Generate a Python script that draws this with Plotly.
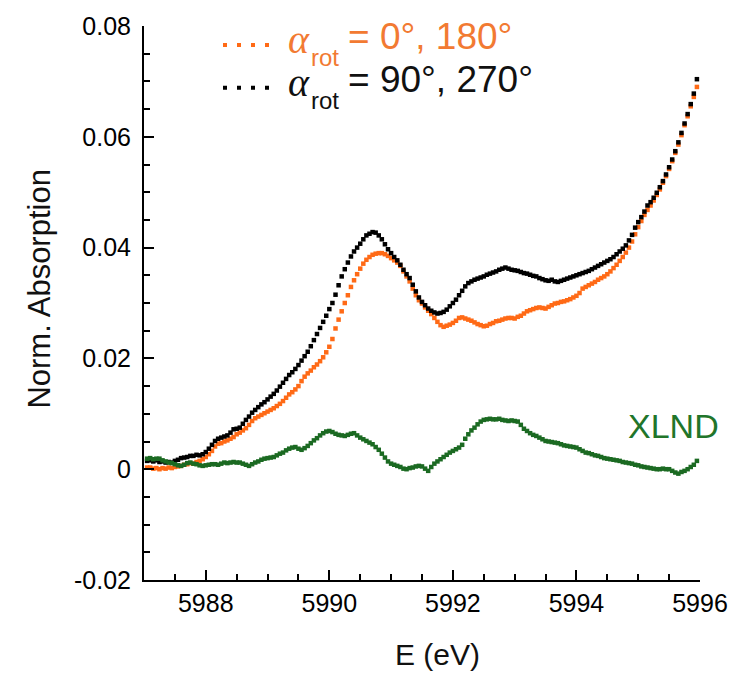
import numpy as np
import plotly.graph_objects as go

# Energy grid (eV), 0.05 eV sampling
energy = np.round(5987.05 + 0.05 * np.arange(179), 2)

# alpha_rot = 0°, 180° (orange)
orange_vals = [
    0.0003, 0.0003, 0.0001, 0.0002, 0.0000, 0.0002, 0.0001, 0.0003, 0.0002, 0.0004,
    0.0005, 0.0006, 0.0008, 0.0009, 0.0011, 0.0010, 0.0013, 0.0015, 0.0018, 0.0022,
    0.0027, 0.0033, 0.0041, 0.0046, 0.0047, 0.0050, 0.0052, 0.0055, 0.0058, 0.0063,
    0.0066, 0.0070, 0.0074, 0.0080, 0.0087, 0.0092, 0.0095, 0.0098, 0.0101, 0.0104,
    0.0107, 0.0110, 0.0114, 0.0118, 0.0123, 0.0129, 0.0135, 0.0139, 0.0144, 0.0150,
    0.0159, 0.0167, 0.0173, 0.0178, 0.0184, 0.0189, 0.0195, 0.0202, 0.0211, 0.0221,
    0.0235, 0.0254, 0.0270, 0.0285, 0.0300, 0.0314, 0.0329, 0.0341, 0.0352, 0.0362,
    0.0371, 0.0378, 0.0383, 0.0387, 0.0389, 0.0390, 0.0390, 0.0388, 0.0385, 0.0381,
    0.0377, 0.0373, 0.0367, 0.0357, 0.0348, 0.0339, 0.0326, 0.0314, 0.0305, 0.0299,
    0.0292, 0.0286, 0.0280, 0.0273, 0.0266, 0.0260, 0.0257, 0.0259, 0.0261, 0.0264,
    0.0268, 0.0273, 0.0274, 0.0272, 0.0270, 0.0268, 0.0265, 0.0262, 0.0260, 0.0258,
    0.0259, 0.0262, 0.0264, 0.0267, 0.0268, 0.0270, 0.0272, 0.0273, 0.0273, 0.0272,
    0.0275, 0.0277, 0.0281, 0.0285, 0.0287, 0.0289, 0.0291, 0.0292, 0.0291, 0.0290,
    0.0293, 0.0296, 0.0299, 0.0300, 0.0302, 0.0303, 0.0305, 0.0307, 0.0310, 0.0313,
    0.0318, 0.0326, 0.0329, 0.0332, 0.0335, 0.0338, 0.0342, 0.0345, 0.0348, 0.0352,
    0.0357, 0.0363, 0.0369, 0.0376, 0.0383, 0.0391, 0.0400, 0.0411, 0.0424, 0.0437,
    0.0448, 0.0459, 0.0468, 0.0476, 0.0485, 0.0495, 0.0505, 0.0517, 0.0529, 0.0542,
    0.0556, 0.0571, 0.0586, 0.0603, 0.0621, 0.0637, 0.0655, 0.0672, 0.0690,
]

# alpha_rot = 90°, 270° (black)
black_vals = [
    0.0015, 0.0016, 0.0014, 0.0016, 0.0013, 0.0014, 0.0012, 0.0013, 0.0012, 0.0015,
    0.0017, 0.0020, 0.0021, 0.0022, 0.0024, 0.0024, 0.0026, 0.0025, 0.0027, 0.0031,
    0.0037, 0.0044, 0.0051, 0.0055, 0.0057, 0.0059, 0.0061, 0.0066, 0.0072, 0.0073,
    0.0075, 0.0082, 0.0089, 0.0095, 0.0102, 0.0107, 0.0112, 0.0117, 0.0121, 0.0126,
    0.0131, 0.0136, 0.0142, 0.0149, 0.0156, 0.0163, 0.0170, 0.0175, 0.0181, 0.0188,
    0.0196, 0.0204, 0.0212, 0.0222, 0.0233, 0.0244, 0.0255, 0.0266, 0.0277, 0.0289,
    0.0300, 0.0315, 0.0332, 0.0348, 0.0361, 0.0373, 0.0384, 0.0393, 0.0400, 0.0407,
    0.0415, 0.0422, 0.0425, 0.0428, 0.0427, 0.0422, 0.0415, 0.0406, 0.0397, 0.0390,
    0.0383, 0.0377, 0.0369, 0.0360, 0.0352, 0.0345, 0.0333, 0.0321, 0.0310, 0.0302,
    0.0296, 0.0290, 0.0286, 0.0283, 0.0281, 0.0282, 0.0284, 0.0288, 0.0294, 0.0300,
    0.0306, 0.0314, 0.0322, 0.0330, 0.0336, 0.0339, 0.0342, 0.0344, 0.0346, 0.0348,
    0.0351, 0.0353, 0.0355, 0.0357, 0.0360, 0.0362, 0.0364, 0.0362, 0.0360, 0.0359,
    0.0358, 0.0356, 0.0354, 0.0353, 0.0351, 0.0349, 0.0348, 0.0345, 0.0343, 0.0341,
    0.0340, 0.0342, 0.0339, 0.0338, 0.0340, 0.0342, 0.0344, 0.0346, 0.0348, 0.0350,
    0.0352, 0.0354, 0.0356, 0.0358, 0.0361, 0.0364, 0.0367, 0.0370, 0.0373, 0.0376,
    0.0379, 0.0383, 0.0388, 0.0393, 0.0398, 0.0404, 0.0413, 0.0423, 0.0436, 0.0446,
    0.0455, 0.0465, 0.0476, 0.0482, 0.0490, 0.0499, 0.0509, 0.0520, 0.0532, 0.0545,
    0.0559, 0.0574, 0.0590, 0.0607, 0.0624, 0.0641, 0.0659, 0.0678, 0.0704,
]

# XLND difference (green)
xlnd_vals = [
    0.0019, 0.0020, 0.0018, 0.0019, 0.0019, 0.0016, 0.0014, 0.0012, 0.0011, 0.0009,
    0.0007, 0.0006, 0.0008, 0.0011, 0.0012, 0.0010, 0.0009, 0.0007, 0.0006, 0.0007,
    0.0008, 0.0009, 0.0009, 0.0008, 0.0010, 0.0012, 0.0011, 0.0012, 0.0013, 0.0012,
    0.0012, 0.0010, 0.0008, 0.0006, 0.0009, 0.0012, 0.0014, 0.0017, 0.0019, 0.0020,
    0.0021, 0.0022, 0.0025, 0.0028, 0.0030, 0.0034, 0.0037, 0.0039, 0.0040, 0.0037,
    0.0035, 0.0038, 0.0042, 0.0047, 0.0052, 0.0056, 0.0061, 0.0065, 0.0068, 0.0069,
    0.0067, 0.0064, 0.0062, 0.0061, 0.0060, 0.0062, 0.0064, 0.0065, 0.0061, 0.0057,
    0.0054, 0.0051, 0.0048, 0.0045, 0.0040, 0.0035, 0.0028, 0.0021, 0.0014, 0.0010,
    0.0008, 0.0006, 0.0004, 0.0001, 0.0000, 0.0002, 0.0003, 0.0005, 0.0006, 0.0005,
    0.0001, -0.0003, 0.0004, 0.0010, 0.0014, 0.0018, 0.0022, 0.0026, 0.0030, 0.0033,
    0.0036, 0.0039, 0.0044, 0.0055, 0.0063, 0.0070, 0.0075, 0.0081, 0.0086, 0.0089,
    0.0090, 0.0091, 0.0090, 0.0090, 0.0091, 0.0089, 0.0088, 0.0087, 0.0088, 0.0087,
    0.0086, 0.0080, 0.0073, 0.0069, 0.0065, 0.0062, 0.0060, 0.0057, 0.0054, 0.0051,
    0.0050, 0.0049, 0.0048, 0.0047, 0.0045, 0.0043, 0.0042, 0.0041, 0.0040, 0.0039,
    0.0036, 0.0033, 0.0030, 0.0029, 0.0027, 0.0025, 0.0024, 0.0022, 0.0020, 0.0019,
    0.0018, 0.0017, 0.0016, 0.0015, 0.0013, 0.0012, 0.0011, 0.0010, 0.0008, 0.0007,
    0.0005, 0.0004, 0.0003, 0.0002, 0.0001, 0.0000, 0.0000, 0.0001, 0.0000, 0.0000,
    -0.0003, -0.0006, -0.0008, -0.0005, -0.0003, 0.0000, 0.0004, 0.0008, 0.0015,
]

x_ticks = [5988, 5990, 5992, 5994, 5996]
x_tick_labels = ["5988", "5990", "5992", "5994", "5996"]
y_ticks = [-0.02, 0.0, 0.02, 0.04, 0.06, 0.08]
y_tick_labels = ["-0.02", "0", "0.02", "0.04", "0.06", "0.08"]

legend_rows = [
    ("= 0°, 180°", "#F27A32", "#FF6A16"),
    ("= 90°, 270°", "#111111", "#000000"),
]

ORANGE = "#FF6A16"
BLACK = "#000000"
GREEN = "#1B6A22"
GREEN_TXT = "#21752A"
FONT = "Liberation Sans, Arial, sans-serif"
SERIF = "Liberation Serif, Times New Roman, serif"

W, H = 743, 673
ML, MR, MT, MB = 144, 43, 23, 93
PW, PH = W - ML - MR, H - MT - MB


def px(xp):
    return (xp - ML) / PW


def py(yp):
    return (H - MB - yp) / PH


fig = go.Figure()
fig.add_trace(go.Scatter(x=energy, y=orange_vals, mode="markers",
                         marker=dict(symbol="square", size=4.5, color=ORANGE, line=dict(width=0)),
                         showlegend=False))
fig.add_trace(go.Scatter(x=energy, y=black_vals, mode="markers",
                         marker=dict(symbol="square", size=4.5, color=BLACK, line=dict(width=0)),
                         showlegend=False))
fig.add_trace(go.Scatter(x=energy, y=xlnd_vals, mode="markers",
                         marker=dict(symbol="square", size=4.5, color=GREEN, line=dict(width=0)),
                         showlegend=False))

fig.update_layout(
    width=W, height=H,
    margin=dict(l=ML, r=MR, t=MT, b=MB),
    paper_bgcolor="white", plot_bgcolor="white",
    font=dict(family=FONT, color="black"),
    xaxis=dict(
        range=[5987, 5996], tickvals=x_ticks, ticktext=x_tick_labels,
        ticks="inside", ticklen=10, tickwidth=2, tickcolor="black",
        showline=True, linewidth=2, linecolor="black", mirror=False,
        showgrid=False, zeroline=False,
        tickfont=dict(size=25, family=FONT, color="black"),
        minor=dict(dtick=0.5, tick0=5988, ticks="inside", ticklen=6, tickwidth=2, tickcolor="black", showgrid=False),
    ),
    yaxis=dict(
        range=[-0.02, 0.08], tickvals=y_ticks, ticktext=y_tick_labels,
        ticks="inside", ticklen=10, tickwidth=2, tickcolor="black",
        showline=True, linewidth=2, linecolor="black", mirror=False,
        showgrid=False, zeroline=False,
        tickfont=dict(size=25, family=FONT, color="black"),
        ticklabelstandoff=6,
        minor=dict(dtick=0.005, tick0=0, ticks="inside", ticklen=6, tickwidth=2, tickcolor="black", showgrid=False),
    ),
)

annotations = [
    dict(text="E (eV)", x=px(437), y=py(655), xref="paper", yref="paper",
         xanchor="center", yanchor="middle", showarrow=False,
         font=dict(size=30, family=FONT, color="#111111")),
    dict(text="Norm. Absorption", x=px(40), y=py(287), xref="paper", yref="paper",
         xanchor="center", yanchor="middle", showarrow=False, textangle=-90,
         font=dict(size=31, family=FONT, color="#111111")),
    dict(text="XLND", x=px(626), y=py(425), xref="paper", yref="paper",
         xanchor="left", yanchor="middle", showarrow=False,
         font=dict(size=34, family=FONT, color=GREEN_TXT)),
]
shapes = []
row_gap = 43
for k, (label, txt_col, dot_col) in enumerate(legend_rows):
    yc = 34 + k * row_gap
    annotations.append(dict(text="<i>α</i>", x=px(286), y=py(yc + 3), xref="paper", yref="paper",
                            xanchor="left", yanchor="middle", showarrow=False,
                            font=dict(size=40, family=SERIF, color=txt_col)))
    annotations.append(dict(text="rot", x=px(309), y=py(yc + 21), xref="paper", yref="paper",
                            xanchor="left", yanchor="middle", showarrow=False,
                            font=dict(size=24, family=FONT, color=txt_col)))
    annotations.append(dict(text=label, x=px(346), y=py(yc), xref="paper", yref="paper",
                            xanchor="left", yanchor="middle", showarrow=False,
                            font=dict(size=37, family=FONT, color=txt_col)))
    shapes.append(dict(type="line", xref="paper", yref="paper", x0=px(223), x1=px(270),
                       y0=py(yc + 8), y1=py(yc + 8),
                       line=dict(color=dot_col, width=4, dash="4px,10px")))

fig.update_layout(annotations=annotations, shapes=shapes)

fig.write_html("out.html")
